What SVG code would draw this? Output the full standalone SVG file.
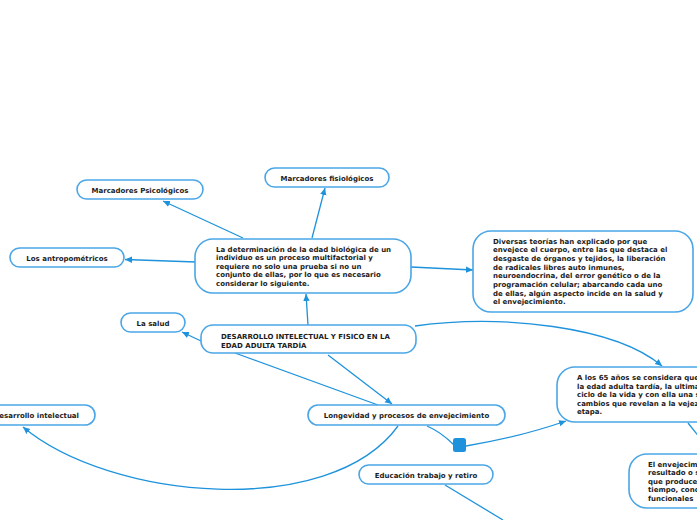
<svg xmlns="http://www.w3.org/2000/svg" width="697" height="520" viewBox="0 0 697 520">
<style>
.box{fill:#fff;stroke:#4aa6e6;stroke-width:1.6}
.t{font-family:"DejaVu Sans",Verdana,sans-serif;font-size:7px;font-weight:bold;fill:#1c1c1c}
.c{text-anchor:middle}
.ln{fill:none;stroke:#1e93dc;stroke-width:1.3}
</style>
<defs>
<marker id="ah" markerWidth="8" markerHeight="8" refX="7" refY="4" orient="auto" markerUnits="userSpaceOnUse">
<path d="M0,0.8 L7,4 L0,7.2 Z" fill="#1e93dc"/>
</marker>
</defs>
<rect width="697" height="520" fill="#fff"/>
<g id="connectors">
<path class="ln" d="M243,238 L163,201" marker-end="url(#ah)"/>
<path class="ln" d="M312,238 L325,188" marker-end="url(#ah)"/>
<path class="ln" d="M196,262 L125,259.5" marker-end="url(#ah)"/>
<path class="ln" d="M411,267 L473,270" marker-end="url(#ah)"/>
<path class="ln" d="M308,325 L306,294" marker-end="url(#ah)"/>
<path class="ln" d="M201,341 L182,332" marker-end="url(#ah)"/>
<path class="ln" d="M415,326 C500,314 615,326 662,366" marker-end="url(#ah)"/>
<path class="ln" d="M328,355 L392,404" marker-end="url(#ah)"/>
<path class="ln" d="M235,353 L378,405"/>
<path class="ln" d="M398,426 C330,520 110,500 23,427" marker-end="url(#ah)"/>
<path class="ln" d="M427,426 Q441,432 454,445"/>
<path class="ln" d="M466,446 Q520,437 566,421" marker-end="url(#ah)"/>
<path class="ln" d="M445,485 L503,520"/>
<path class="ln" d="M688,423 L700,438"/>
<rect x="453" y="438" width="13" height="14" rx="2.5" fill="#1e93dc"/>
</g>
<g id="n-psico">
<rect class="box" x="77" y="180" width="126" height="19" rx="9.5"/>
<text class="t c" x="140" y="193">Marcadores Psicológicos</text>
</g>
<g id="n-fisio">
<rect class="box" x="265" y="168" width="124" height="19" rx="9.5"/>
<text class="t c" x="327" y="180.5">Marcadores fisiológicos</text>
</g>
<g id="n-antro">
<rect class="box" x="10" y="248" width="114" height="19" rx="9.5"/>
<text class="t c" x="67" y="260.5">Los antropométricos</text>
</g>
<g id="n-determinacion">
<rect class="box" x="195" y="239" width="216" height="54" rx="18"/>
<text class="t" x="216" y="251.5">La determinación de la edad biológica de un</text>
<text class="t" x="216" y="260">individuo es un proceso multifactorial y</text>
<text class="t" x="216" y="268.5">requiere no solo una prueba si no un</text>
<text class="t" x="216" y="277">conjunto de ellas, por lo que es necesario</text>
<text class="t" x="216" y="285.5">considerar lo siguiente.</text>
</g>
<g id="n-teorias">
<rect class="box" x="473" y="231" width="220" height="81" rx="18"/>
<text class="t" x="493" y="243.5">Diversas teorías han explicado por que</text>
<text class="t" x="493" y="252.2">envejece el cuerpo, entre las que destaca el</text>
<text class="t" x="493" y="260.9">desgaste de órganos y tejidos, la liberación</text>
<text class="t" x="493" y="269.6">de radicales libres auto inmunes,</text>
<text class="t" x="493" y="278.3">neuroendocrina, del error genético o de la</text>
<text class="t" x="493" y="287">programación celular; abarcando cada uno</text>
<text class="t" x="493" y="295.7">de ellas, algún aspecto incide en la salud y</text>
<text class="t" x="493" y="304.4">el envejecimiento.</text>
</g>
<g id="n-salud">
<rect class="box" x="121" y="313" width="64" height="19" rx="9.5"/>
<text class="t c" x="153" y="325.5">La salud</text>
</g>
<g id="n-central">
<rect class="box" x="201" y="325" width="215" height="28" rx="12"/>
<text class="t" x="221" y="338.5">DESARROLLO INTELECTUAL Y FISICO EN LA</text>
<text class="t" x="221" y="347.5">EDAD ADULTA TARDÍA</text>
</g>
<g id="n-intelectual">
<rect class="box" x="-25" y="405" width="120" height="20" rx="10"/>
<text class="t" x="79" y="417.5" text-anchor="end">Desarrollo intelectual</text>
</g>
<g id="n-longevidad">
<rect class="box" x="308" y="405" width="197" height="20" rx="10"/>
<text class="t c" x="406.5" y="417.5">Longevidad y procesos de envejecimiento</text>
</g>
<g id="n-educacion">
<rect class="box" x="359" y="465" width="134" height="19" rx="9.5"/>
<text class="t c" x="426" y="477.5">Educación trabajo y retiro</text>
</g>
<g id="n-65">
<rect class="box" x="557" y="367" width="180" height="55" rx="18"/>
<text class="t" x="577" y="380">A los 65 años se considera que</text>
<text class="t" x="577" y="388.5">la edad adulta tardía, la ultima</text>
<text class="t" x="577" y="397">ciclo de la vida y con ella una s</text>
<text class="t" x="577" y="405.5">cambios que revelan a la vejez</text>
<text class="t" x="577" y="414">etapa.</text>
</g>
<g id="n-envejecimiento">
<rect class="box" x="629" y="454" width="120" height="54" rx="18"/>
<text class="t" x="648" y="466.5">El envejecim</text>
<text class="t" x="648" y="475">resultado o s</text>
<text class="t" x="648" y="483.5">que produce</text>
<text class="t" x="648" y="492">tiempo, cond</text>
<text class="t" x="648" y="500.5">funcionales</text>
</g>
</svg>
